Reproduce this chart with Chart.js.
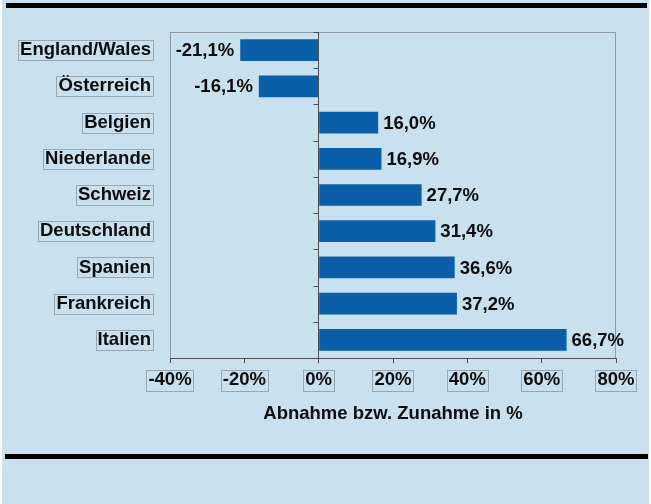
<!DOCTYPE html>
<html>
<head>
<meta charset="utf-8">
<script src="https://cdn.jsdelivr.net/npm/chart.js@4/dist/chart.umd.min.js"></script>
<style>
  html, body { margin: 0; padding: 0; background: #ffffff; }
  canvas { display: block; }
</style>
</head>
<body>
<canvas id="c" width="651" height="504"></canvas>
<script>
// Veränderung in Prozent je Land
const countries = ['England/Wales', 'Österreich', 'Belgien', 'Niederlande', 'Schweiz', 'Deutschland', 'Spanien', 'Frankreich', 'Italien'];
const changes = [-21.1, -16.1, 16.0, 16.9, 27.7, 31.4, 36.6, 37.2, 66.7];
const xTicks = [-40, -20, 0, 20, 40, 60, 80];
const axisTitle = 'Abnahme bzw. Zunahme in %';

const PANEL = '#c9e0ee';
const BAR = '#0a5fa8';
const TEXT = '#0d0d0d';
const FONT = { family: '"Liberation Sans", Arial, sans-serif', size: 18.5, weight: 'bold' };
const fontStr = `bold ${FONT.size}px ${FONT.family}`;
const fmt = v => v.toFixed(1).replace('.', ',') + '%';

// Hintergrund mit den schwarzen Balken oben und unten
const panelPlugin = {
  id: 'panel',
  beforeDraw(chart) {
    const ctx = chart.ctx;
    ctx.save();
    ctx.fillStyle = '#ffffff';
    ctx.fillRect(0, 0, chart.width, chart.height);
    ctx.fillStyle = PANEL;
    ctx.fillRect(2, 0, 647, chart.height);
    ctx.fillStyle = '#000000';
    ctx.fillRect(6, 3, 641, 5);
    ctx.fillRect(5, 454, 643, 5);
    ctx.restore();
  }
};

// Rahmen, Nulllinie, Wertebeschriftung und Kästchen um die Achsenbeschriftungen
const decorPlugin = {
  id: 'decor',
  beforeDatasetsDraw(chart) {
    const { ctx, chartArea: a } = chart;
    ctx.save();
    ctx.strokeStyle = '#8d9aa5';
    ctx.lineWidth = 1;
    ctx.beginPath();
    ctx.moveTo(a.left + 0.5, a.bottom);
    ctx.lineTo(a.left + 0.5, a.top + 0.5);
    ctx.lineTo(a.right - 0.5, a.top + 0.5);
    ctx.lineTo(a.right - 0.5, a.bottom);
    ctx.stroke();
    ctx.restore();
  },
  afterDatasetsDraw(chart) {
    const { ctx, chartArea: a, scales: { x, y } } = chart;
    ctx.save();
    // Nulllinie mit Teilstrichen zwischen den Kategorien
    const x0 = Math.round(x.getPixelForValue(0)) - 0.5;
    ctx.strokeStyle = '#4a4f55';
    ctx.lineWidth = 1;
    ctx.beginPath();
    ctx.moveTo(x0, a.top);
    ctx.lineTo(x0, a.bottom);
    for (let i = 0; i <= countries.length; i++) {
      const yy = Math.round(y.getPixelForValue(i - 0.5)) + 0.5;
      ctx.moveTo(x0 - 5, yy);
      ctx.lineTo(x0, yy);
    }
    ctx.stroke();

    // Werte an den Balken
    ctx.font = fontStr;
    ctx.fillStyle = TEXT;
    ctx.textBaseline = 'middle';
    const meta = chart.getDatasetMeta(0);
    meta.data.forEach((bar, i) => {
      const v = changes[i];
      if (v < 0) {
        ctx.textAlign = 'right';
        ctx.fillText(fmt(v), bar.x - 6, bar.y + 1);
      } else {
        ctx.textAlign = 'left';
        ctx.fillText(fmt(v), bar.x + 5, bar.y + 1);
      }
    });
    ctx.restore();
  },
  afterDraw(chart) {
    const { ctx, chartArea: a, scales: { x, y } } = chart;
    ctx.save();
    ctx.font = fontStr;
    ctx.strokeStyle = 'rgba(110,122,132,0.55)';
    ctx.lineWidth = 1;
    // Kästchen um die Länderbeschriftung
    y.ticks.forEach((t, i) => {
      const w = ctx.measureText(countries[i]).width;
      const cy = y.getPixelForTick(i);
      const right = a.left - 17;
      ctx.strokeRect(Math.round(right - w - 4) + 0.5, Math.round(cy - 10) + 0.5, Math.round(w + 4), 20);
    });
    // Kästchen um die Prozentbeschriftung der x-Achse
    x.ticks.forEach((t, i) => {
      const w = ctx.measureText(t.label).width;
      const cx = x.getPixelForTick(i);
      ctx.strokeRect(Math.round(cx - w / 2 - 2) + 0.5, 370.5, Math.round(w + 4), 21);
    });
    ctx.restore();
  }
};

new Chart(document.getElementById('c'), {
  type: 'bar',
  data: {
    labels: countries,
    datasets: [{
      data: changes,
      backgroundColor: BAR,
      borderWidth: 0,
      barPercentage: 0.6,
      categoryPercentage: 1.0
    }]
  },
  options: {
    indexAxis: 'y',
    responsive: false,
    animation: false,
    devicePixelRatio: 1,
    layout: { padding: { top: 32, left: 0, right: 35, bottom: 66 } },
    plugins: { legend: { display: false }, tooltip: { enabled: false } },
    scales: {
      x: {
        min: -40,
        max: 80,
        afterBuildTicks: s => { s.ticks = xTicks.map(v => ({ value: v })); },
        afterFit: s => { s.height = 80; },
        ticks: {
          callback: v => v + '%',
          color: TEXT,
          font: FONT,
          padding: 6,
          maxRotation: 0,
          autoSkip: false
        },
        grid: { drawOnChartArea: false, drawTicks: true, tickLength: 5, color: '#4a4f55' },
        border: { display: true, color: '#4a4f55' },
        title: {
          display: true,
          text: axisTitle,
          color: TEXT,
          font: FONT,
          padding: { top: 0, bottom: 13 }
        }
      },
      y: {
        afterFit: s => { s.width = 170; },
        ticks: { color: TEXT, font: FONT, padding: 19 },
        grid: { display: false, drawTicks: false },
        border: { display: false }
      }
    }
  },
  plugins: [panelPlugin, decorPlugin]
});
</script>
</body>
</html>
